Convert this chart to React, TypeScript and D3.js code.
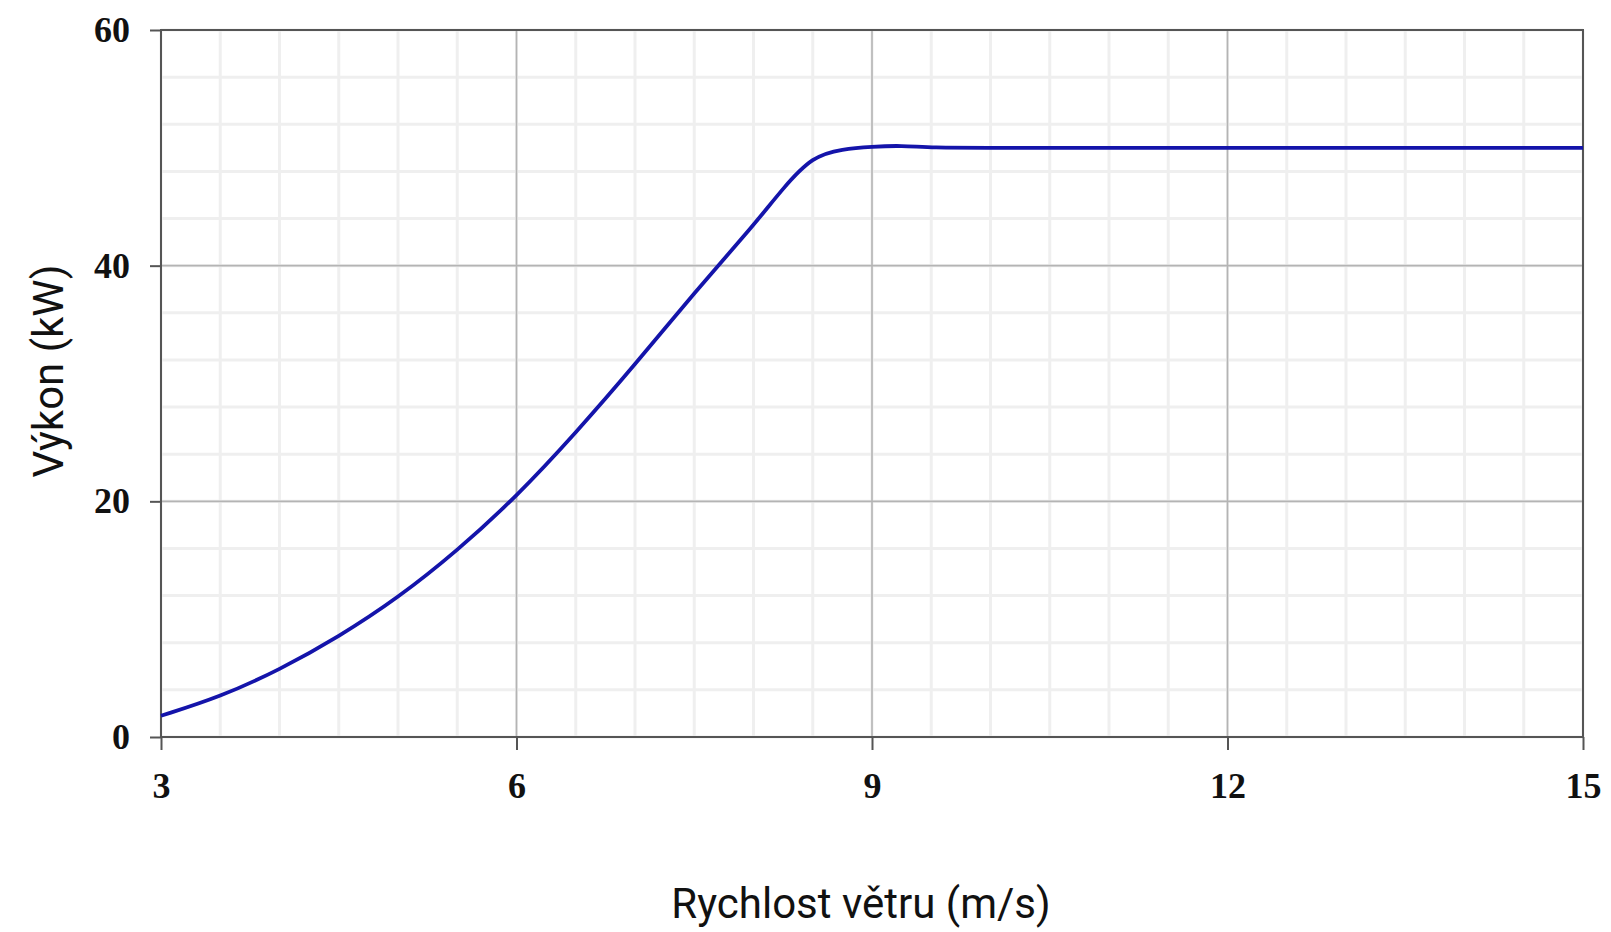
import React, { useEffect, useRef } from 'react';
import * as d3 from 'd3';

// wind speed (m/s) and power output (kW)
const windSpeed = [3, 3.5, 4, 4.5, 5, 5.5, 6, 6.5, 7, 7.5, 8, 8.25, 8.5, 8.75, 9, 9.25, 9.5, 10, 11, 12, 13, 14, 15];
const power = [1.8, 3.4, 5.7, 8.5, 11.8, 15.8, 20.4, 25.8, 31.6, 37.7, 43.4, 46.6, 49.3, 49.9, 50.1, 50.2, 50.0, 50.0, 50.0, 50.0, 50.0, 50.0, 50.0];

const xTicks = [3, 6, 9, 12, 15];
const yTicks = [0, 20, 40, 60];
const xTitle = 'Rychlost větru (m/s)';
const yTitle = 'Výkon (kW)';

const W = 1611;
const H = 932;

const PowerCurve = () => {
  const svgRef = useRef<SVGSVGElement>(null);

  useEffect(() => {
    const svg = d3.select(svgRef.current);
    svg.selectAll('*').remove();

    const margin = { top: 30, right: 28, bottom: 195, left: 161 };
    const width = W - margin.left - margin.right;
    const height = H - margin.top - margin.bottom;

    const g = svg.append('g').attr('transform', `translate(${margin.left},${margin.top})`);

    const x = d3.scaleLinear().domain([3, 15]).range([0, width]);
    const y = d3.scaleLinear().domain([0, 60]).range([height, 0]);

    // minor grid
    const minorX = d3.range(3, 15.001, 0.5);
    const minorY = d3.range(0, 60.001, 4);
    g.append('g')
      .selectAll('line')
      .data(minorX)
      .enter()
      .append('line')
      .attr('x1', d => x(d)).attr('x2', d => x(d))
      .attr('y1', 0).attr('y2', height)
      .attr('stroke', '#efefef').attr('stroke-width', 3);
    g.append('g')
      .selectAll('line')
      .data(minorY)
      .enter()
      .append('line')
      .attr('x1', 0).attr('x2', width)
      .attr('y1', d => y(d)).attr('y2', d => y(d))
      .attr('stroke', '#efefef').attr('stroke-width', 3);

    // major grid
    g.append('g')
      .selectAll('line')
      .data(xTicks)
      .enter()
      .append('line')
      .attr('x1', d => x(d)).attr('x2', d => x(d))
      .attr('y1', 0).attr('y2', height)
      .attr('stroke', '#b4b4b4').attr('stroke-width', 1.6);
    g.append('g')
      .selectAll('line')
      .data(yTicks)
      .enter()
      .append('line')
      .attr('x1', 0).attr('x2', width)
      .attr('y1', d => y(d)).attr('y2', d => y(d))
      .attr('stroke', '#b4b4b4').attr('stroke-width', 1.6);

    // frame
    g.append('rect')
      .attr('width', width).attr('height', height)
      .attr('fill', 'none').attr('stroke', '#555').attr('stroke-width', 2);

    const tickFont = (sel: any) =>
      sel.attr('font-family', '"Liberation Serif", serif')
        .attr('font-weight', 'bold')
        .attr('font-size', 36)
        .attr('fill', '#111');

    const xAxis = g.append('g')
      .attr('transform', `translate(0,${height})`)
      .call(d3.axisBottom(x).tickValues(xTicks).tickSize(13).tickPadding(22).tickFormat(d3.format('d')));
    xAxis.select('.domain').remove();
    xAxis.selectAll('line').attr('stroke', '#555').attr('stroke-width', 2);
    xAxis.selectAll('text').call(tickFont);

    const yAxis = g.append('g')
      .call(d3.axisLeft(y).tickValues(yTicks).tickSize(11).tickPadding(20).tickFormat(d3.format('d')));
    yAxis.select('.domain').remove();
    yAxis.selectAll('line').attr('stroke', '#555').attr('stroke-width', 2);
    yAxis.selectAll('text').call(tickFont);

    const line = d3.line<number>()
      .x((d, i) => x(windSpeed[i]))
      .y(d => y(d))
      .curve(d3.curveBasis);

    g.append('path')
      .datum(power)
      .attr('d', line)
      .attr('fill', 'none')
      .attr('stroke', '#1414aa')
      .attr('stroke-width', 3.8)
      .attr('stroke-linejoin', 'round');

    svg.append('text')
      .attr('x', 861).attr('y', 918)
      .attr('text-anchor', 'middle')
      .attr('font-family', 'Roboto, sans-serif')
      .attr('font-size', 42)
      .attr('fill', '#111')
      .text(xTitle);

    svg.append('text')
      .attr('transform', 'translate(63,371) rotate(-90)')
      .attr('text-anchor', 'middle')
      .attr('font-family', 'Roboto, sans-serif')
      .attr('font-size', 42)
      .attr('fill', '#111')
      .text(yTitle);
  }, []);

  return (
    <svg
      ref={svgRef}
      width={W}
      height={H}
      style={{ position: 'absolute', left: 0, top: 0, background: '#fff' }}
    />
  );
};

export default function App() {
  return <PowerCurve />;
}
